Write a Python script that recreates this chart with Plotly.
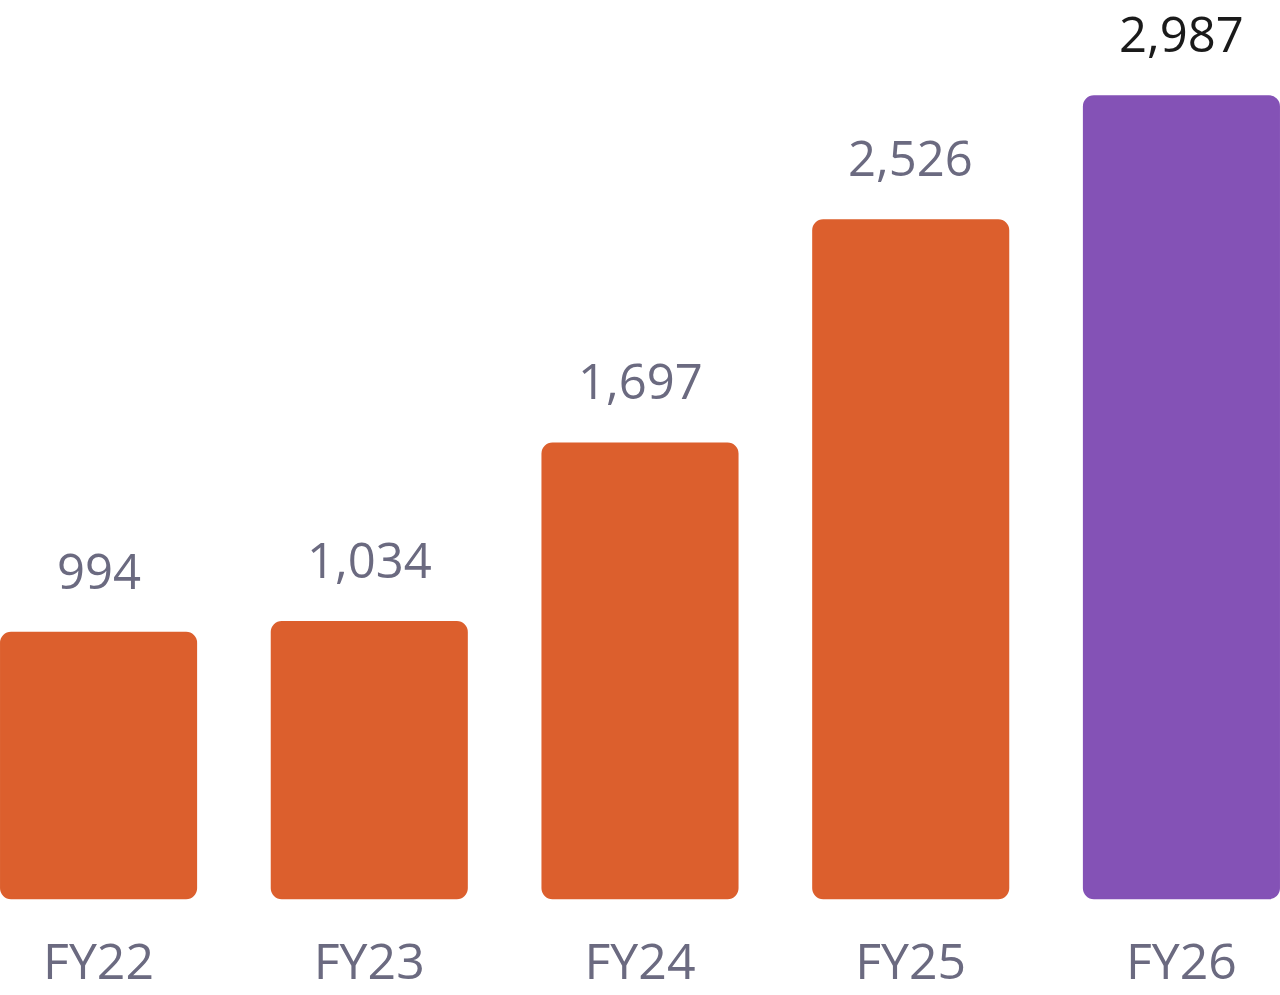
import plotly.graph_objects as go

categories = ["FY22", "FY23", "FY24", "FY25", "FY26"]
values = [994, 1034, 1697, 2526, 2987]
labels = ["994", "1,034", "1,697", "2,526", "2,987"]

ORANGE = "#DC5F2D"
PURPLE = "#8452B6"
bar_colors = [ORANGE, ORANGE, ORANGE, ORANGE, PURPLE]
label_colors = ["#6B6A80", "#6B6A80", "#6B6A80", "#6B6A80", "#1A1A1A"]
FONT = "Open Sans"

n = len(categories)
fig = go.Figure()
# explicit base -> plotly rounds all four corners of each bar
fig.add_trace(go.Bar(
    x=categories, y=values, base=[0] * n,
    marker=dict(color=bar_colors, line=dict(width=0)),
    width=0.728, hoverinfo="skip", showlegend=False,
))

for c, v, t, col in zip(categories, values, labels, label_colors):
    fig.add_annotation(
        x=c, y=v, text=t, showarrow=False, yanchor="bottom", yshift=28, borderpad=0,
        font=dict(family=FONT, size=49, color=col),
    )

fig.update_layout(
    width=1280, height=995,
    margin=dict(l=0, r=0, t=0, b=94),
    paper_bgcolor="white", plot_bgcolor="white",
    barcornerradius=11,
    xaxis=dict(range=[-0.3641, 4.3641], showgrid=False, zeroline=False, showline=False,
               ticks="", tickfont=dict(family=FONT, size=50, color="#6B6A80"),
               ticklabelstandoff=27),
    yaxis=dict(range=[-6.3, 3340.7], visible=False, showgrid=False, zeroline=False),
)

fig.write_html("out.html")
